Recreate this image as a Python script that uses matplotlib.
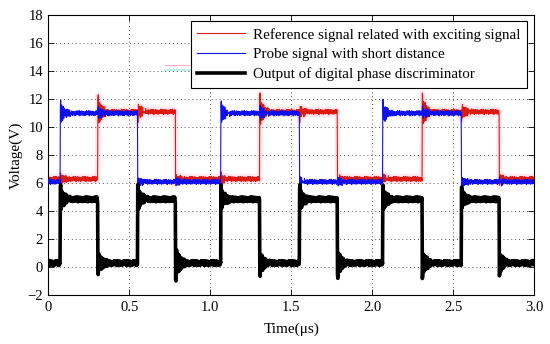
import numpy as np
import matplotlib
matplotlib.use('Agg')
import matplotlib.pyplot as plt

plt.rcParams['font.family'] = ['Liberation Serif', 'DejaVu Serif']
plt.rcParams['mathtext.fontset'] = 'stix'

# ---------------- data ----------------
blue_rise = [0.073, 1.066, 2.065]
blue_fall = [0.552, 1.552, 2.552]
red_rise = [0.306, 1.306, 2.310]
red_fall = [0.785, 1.785, 2.785]

blue_lo, blue_hi = 6.1, 11.0
red_lo, red_hi = 6.3, 11.1
black_lo, black_hi = 0.3, 4.85

# ringing events (time, amplitude) for each trace
blue_events = [(0.073, 0.85), (1.066, 0.8), (2.065, 0.9),
               (0.552, -0.3), (1.552, -0.3), (2.552, -0.3),
               (0.306, 0.45), (1.306, 0.5), (2.310, 0.45),
               (0.785, 0.25), (1.785, 0.25), (2.785, 0.25)]
red_events = [(0.306, 1.15), (1.306, 1.15), (2.310, 1.2),
              (0.785, -0.3), (1.785, -0.3), (2.785, -0.3),
              (0.552, -0.7), (1.552, -0.6), (2.552, -0.65),
              (0.073, 0.3), (1.066, 0.3), (2.065, 0.3)]
black_events = [(0.073, 0.95), (1.066, 0.9), (2.065, 0.9),
                (0.552, 0.9), (1.552, 0.9), (2.552, 0.8),
                (0.306, -0.85), (1.306, -0.85), (2.310, -0.95),
                (0.785, -1.3), (1.785, -1.0), (2.785, -0.9)]

# ringing shape after an edge (samples every 0.004 us)
ring_shape = [1.0, -0.6, 0.5, -0.45, 0.4, -0.35, 0.3, -0.26, 0.22, -0.18,
              0.15, -0.12, 0.1, -0.08, 0.06, -0.05]
# trace noise (hand-read wiggle, V)
noise = [0.12, -0.08, 0.15, -0.14, 0.05, 0.18, -0.1, -0.2, 0.08, 0.02,
         -0.12, 0.16, -0.05, 0.1, -0.16, 0.06, 0.14, -0.09, -0.02, 0.11,
         -0.18, 0.04, 0.09, -0.13, 0.07, -0.15, 0.13, -0.03, 0.17, -0.11]

xticks = [0, 0.5, 1.0, 1.5, 2.0, 2.5, 3.0]
xticklabels = ['0', '0.5', '1.0', '1.5', '2.0', '2.5', '3.0']
yticks = list(range(-2, 19, 2))

labels = ['Reference signal related with exciting signal',
          'Probe signal with short distance',
          'Output of digital phase discriminator']

# ---------------- build traces ----------------
dt = 0.002
t = np.arange(0, 3.0 + dt / 2, dt)
idx = np.arange(t.size)
noise_a = np.array(noise)


def high_mask(rises, falls):
    m = np.zeros(t.size, dtype=bool)
    for r, f in zip(rises, falls):
        m |= (t >= r) & (t < f)
    return m


def ringing(events, scale=1.0):
    out = np.zeros(t.size)
    rs = np.array(ring_shape)
    for te, amp in events:
        k = np.floor((t - te) / 0.004).astype(int)
        ok = (k >= 0) & (k < rs.size)
        out[ok] += amp * rs[k[ok]] * scale
    return out


bm = high_mask(blue_rise, blue_fall)
rm = high_mask(red_rise, red_fall)
km = bm ^ rm

blue = np.where(bm, blue_hi, blue_lo) + ringing(blue_events) + noise_a[idx % noise_a.size]
red = np.where(rm, red_hi, red_lo) + ringing(red_events) + noise_a[(idx + 11) % noise_a.size]
black = np.where(km, black_hi, black_lo) + ringing(black_events) + 0.9 * noise_a[(idx + 5) % noise_a.size]

# ---------------- plot ----------------
fig = plt.figure(figsize=(5.5, 3.44), dpi=100)
ax = fig.add_axes([0.088, 0.142, 0.883, 0.814])

ax.plot(t, red, color='#ff9ec0', lw=4, alpha=0.25, zorder=1)
l1, = ax.plot(t, red, color='#dd1a10', lw=0.8, zorder=2)
l2, = ax.plot(t, blue, color='#1010ee', lw=0.8, zorder=3)
l3, = ax.plot(t, black, color='black', lw=2.6, zorder=4)

# faint artefact streaks
ax.plot([0.72, 1.01], [14.45, 14.45], color='#ffb0d0', lw=0.8, zorder=1)
ax.plot([0.72, 1.01], [14.1, 14.1], color='#b0f0f0', lw=1.2, zorder=1)

ax.set_xlim(0, 3.0)
ax.set_ylim(-2, 18)
ax.set_xticks(xticks)
ax.set_xticklabels(xticklabels)
ax.set_yticks(yticks)
ax.tick_params(direction='in', top=True, right=True, labelsize=10.5, length=4,
               width=0.6, pad=4)
ax.grid(True, linestyle=(0, (1, 3)), color='#555555', lw=0.7)
for s in ax.spines.values():
    s.set_linewidth(0.8)

ax.set_xlabel('Time(μs)', fontsize=11, labelpad=6)
ax.set_ylabel('Voltage(V)', fontsize=11, labelpad=3)

leg = ax.legend([l1, l2, l3], labels, loc='upper right', fontsize=10.8,
                bbox_to_anchor=(0.9856, 0.979), borderaxespad=0,
                handlelength=3.2, borderpad=0.45, labelspacing=0.4,
                handletextpad=0.5, fancybox=False, framealpha=1,
                edgecolor='black')
leg.get_frame().set_linewidth(0.8)

fig.savefig('out.png', dpi=100)
